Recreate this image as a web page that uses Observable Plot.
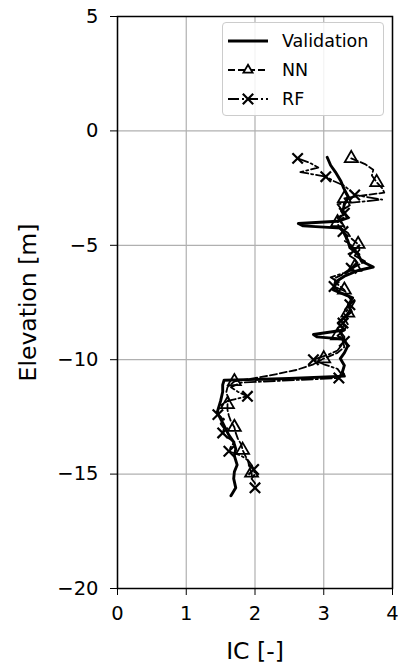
<!DOCTYPE html>
<html>
<head>
<meta charset="utf-8">
<script src="https://cdn.jsdelivr.net/npm/d3@7"></script>
<script src="https://cdn.jsdelivr.net/npm/@observablehq/plot@0.6"></script>
<style>
  html, body { margin: 0; padding: 0; background: #fff; }
  #wrap { position: relative; width: 398px; height: 666px; font-family: "DejaVu Sans", sans-serif; }
  #legend { position: absolute; left: 222px; top: 22px; width: 162px; height: 94px; box-sizing: border-box;
    border: 1px solid #cccccc; border-radius: 4px; background: rgba(255,255,255,0.85); }
  #legend svg { display: block; }
</style>
</head>
<body>
<div id="wrap"><div id="chart"></div><div id="legend"></div></div>
<script>
// ---- data ----
const valElev = [-1.15,-1.5,-1.8,-2.2,-2.5,-2.9,-3.2,-3.5,-3.8,-3.95,-4.05,-4.15,-4.25,-4.5,-4.8,-5.1,-5.4,-5.7,-5.95,-6.1,-6.35,-6.6,-6.95,-7.3,-7.6,-7.9,-8.15,-8.4,-8.7,-8.9,-9.0,-9.1,-9.4,-9.7,-9.95,-10.25,-10.55,-10.72,-10.82,-10.9,-11.1,-11.4,-11.8,-12.3,-12.7,-13.0,-13.3,-13.6,-13.9,-14.2,-14.6,-14.9,-15.2,-15.6,-15.85,-15.95];
const valIC   = [3.05,3.1,3.17,3.25,3.29,3.36,3.3,3.28,3.35,3.2,2.63,2.7,3.25,3.3,3.35,3.38,3.5,3.55,3.72,3.5,3.3,3.17,3.14,3.42,3.36,3.4,3.3,3.21,3.3,2.85,2.9,3.29,3.35,3.3,3.24,3.3,3.27,3.3,2.5,1.55,1.53,1.53,1.5,1.45,1.52,1.57,1.62,1.69,1.72,1.7,1.74,1.7,1.69,1.72,1.67,1.65];

const nnElev = [-1.2,-1.45,-1.7,-1.95,-2.25,-2.5,-2.7,-2.85,-2.95,-3.25,-3.5,-3.75,-4.0,-4.2,-4.45,-4.7,-4.95,-5.2,-5.45,-5.7,-5.95,-6.2,-6.45,-6.7,-6.95,-7.2,-7.45,-7.7,-7.95,-8.2,-8.45,-8.7,-8.95,-9.2,-9.45,-9.7,-9.95,-10.2,-10.45,-10.7,-10.95,-11.2,-11.45,-11.7,-11.95,-12.2,-12.45,-12.7,-12.95,-13.2,-13.45,-13.7,-13.95,-14.2,-14.45,-14.7,-14.95,-15.2];
const nnIC   = [3.4,3.6,3.72,3.7,3.77,3.85,3.88,3.5,3.3,3.38,3.25,3.3,3.2,3.22,3.35,3.4,3.5,3.52,3.45,3.6,3.45,3.33,3.15,3.2,3.3,3.35,3.45,3.4,3.35,3.3,3.35,3.3,3.2,3.28,3.3,3.2,3.0,2.85,2.6,2.2,1.7,1.6,1.58,1.62,1.6,1.6,1.62,1.65,1.7,1.72,1.75,1.8,1.82,1.86,1.9,1.92,1.95,1.96];

const rfElev = [-1.2,-1.4,-1.6,-1.8,-2.0,-2.2,-2.4,-2.6,-2.8,-3.0,-3.2,-3.4,-3.6,-3.8,-4.0,-4.2,-4.4,-4.6,-4.8,-5.0,-5.2,-5.4,-5.6,-5.8,-6.0,-6.2,-6.4,-6.6,-6.8,-7.0,-7.2,-7.4,-7.6,-7.8,-8.0,-8.2,-8.4,-8.6,-8.8,-9.0,-9.2,-9.4,-9.6,-9.8,-10.0,-10.2,-10.4,-10.6,-10.8,-11.0,-11.2,-11.4,-11.6,-11.8,-12.0,-12.2,-12.4,-12.6,-12.8,-13.0,-13.2,-13.4,-13.6,-13.8,-14.0,-14.2,-14.4,-14.6,-14.8,-15.0,-15.2,-15.4,-15.6];
const rfIC   = [2.62,2.8,2.92,2.66,3.03,3.15,3.3,3.38,3.45,3.85,3.2,3.25,3.3,3.2,3.25,3.3,3.28,3.35,3.3,3.4,3.45,3.35,3.45,3.5,3.4,3.3,3.1,3.2,3.15,3.3,3.35,3.4,3.38,3.35,3.3,3.35,3.28,3.3,3.25,3.3,3.3,3.25,3.2,3.05,2.85,3.0,3.2,3.25,3.22,1.8,1.65,1.75,1.89,1.6,1.5,1.46,1.46,1.55,1.5,1.55,1.53,1.6,1.7,1.65,1.62,1.8,1.9,1.95,1.98,2.0,1.95,2.0,2.0];

const nnMarkEvery = 4;
const rfMarkEvery = 4;
const xTicks = [0, 1, 2, 3, 4];
const yTicks = [5, 0, -5, -10, -15, -20];
const seriesNames = ["Validation", "NN", "RF"];

// ---- tables ----
const val = valElev.map((e, i) => ({elev: e, ic: valIC[i]}));
const nn  = nnElev.map((e, i) => ({elev: e, ic: nnIC[i]}));
const rf  = rfElev.map((e, i) => ({elev: e, ic: rfIC[i]}));
const nnMarks = nn.filter((d, i) => i % nnMarkEvery === 0);
const rfMarks = rf.filter((d, i) => i % rfMarkEvery === 0);

const DASH = "7,3";
const DASHDOT = "11,3,2,3";

const chart = Plot.plot({
  width: 398,
  height: 666,
  marginLeft: 117,
  marginRight: 6,
  marginTop: 16,
  marginBottom: 78,
  style: {fontFamily: "DejaVu Sans, sans-serif", fontSize: "19.5px", color: "#000", background: "#fff", overflow: "visible"},
  x: {domain: [0, 4]},
  y: {domain: [-20, 5]},
  marks: [
    Plot.gridX(xTicks, {stroke: "#b0b0b0", strokeOpacity: 1, strokeWidth: 1.2}),
    Plot.gridY(yTicks, {stroke: "#b0b0b0", strokeOpacity: 1, strokeWidth: 1.2}),
    Plot.line(nn, {x: "ic", y: "elev", stroke: "black", strokeWidth: 1.8, strokeDasharray: DASH}),
    Plot.line(rf, {x: "ic", y: "elev", stroke: "black", strokeWidth: 1.8, strokeDasharray: DASHDOT}),
    Plot.line(val, {x: "ic", y: "elev", stroke: "black", strokeWidth: 2.9}),
    Plot.dot(nnMarks, {x: "ic", y: "elev", symbol: "triangle", r: 4.8, stroke: "black", fill: "none", strokeWidth: 1.8}),
    Plot.dot(rfMarks, {x: "ic", y: "elev", symbol: "times", r: 4.8, stroke: "black", strokeWidth: 2.2}),
    Plot.frame({stroke: "black", strokeWidth: 1.5}),
    Plot.axisX({ticks: xTicks, tickFormat: d3.format("d"), tickSize: 7, tickPadding: 11, fontSize: 19.5, label: "IC [-]", labelAnchor: "center", labelOffset: 70, labelArrow: "none"}),
    Plot.axisY({ticks: yTicks, tickFormat: d3.format("d"), tickSize: 7, tickPadding: 12, fontSize: 19.5, label: "Elevation [m]", labelAnchor: "center", labelOffset: 98, labelArrow: "none"})
  ]
});
document.getElementById("chart").appendChild(chart);

// axis label font sizes
d3.select(chart).selectAll("g[aria-label='x-axis label'] text, g[aria-label='y-axis label'] text").style("font-size", "23.5px");

// ---- legend ----
const lg = d3.select("#legend").append("svg").attr("width", 160).attr("height", 92);
const rows = [
  {name: seriesNames[0], dash: null, w: 2.9, sym: null},
  {name: seriesNames[1], dash: DASH, w: 1.8, sym: d3.symbolTriangle2},
  {name: seriesNames[2], dash: DASHDOT, w: 1.8, sym: d3.symbolTimes}
];
rows.forEach((r, i) => {
  const cy = 18 + i * 29;
  lg.append("line").attr("x1", 5).attr("x2", 45).attr("y1", cy).attr("y2", cy)
    .attr("stroke", "black").attr("stroke-width", r.w).attr("stroke-dasharray", r.dash);
  if (r.sym) {
    lg.append("path").attr("transform", `translate(25,${cy})`)
      .attr("d", d3.symbol(r.sym, r.sym === d3.symbolTimes ? 72 : 60)())
      .attr("fill", r.sym === d3.symbolTimes ? "none" : "white").attr("stroke", "black").attr("stroke-width", r.sym === d3.symbolTimes ? 2.2 : 1.8);
  }
  lg.append("text").attr("x", 59).attr("y", cy + 6).attr("font-size", 17.5)
    .attr("font-family", "DejaVu Sans, sans-serif").text(r.name);
});
</script>
</body>
</html>
